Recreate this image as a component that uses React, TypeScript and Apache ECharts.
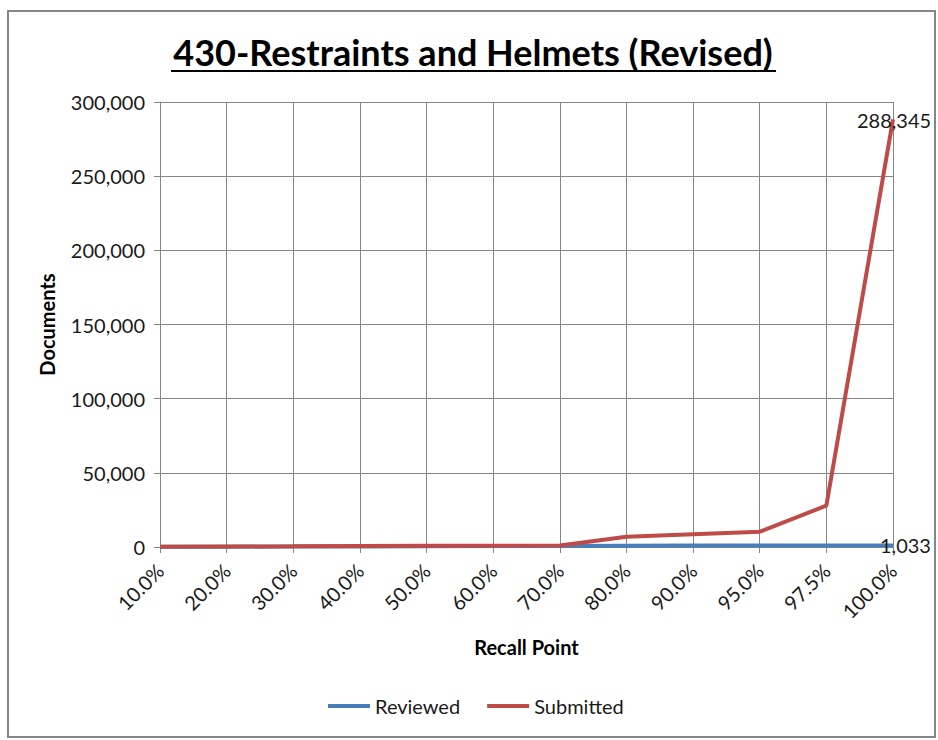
import React, { useEffect, useRef } from "react";
import * as echarts from "echarts";

const categories = ["10.0%", "20.0%", "30.0%", "40.0%", "50.0%", "60.0%", "70.0%", "80.0%", "90.0%", "95.0%", "97.5%", "100.0%"];
const reviewed = [100, 210, 310, 410, 520, 620, 720, 830, 930, 980, 1010, 1033];
const submitted = [150, 300, 450, 700, 800, 900, 1000, 6900, 8600, 10300, 27900, 288345];
const yTicks = [0, 50000, 100000, 150000, 200000, 250000, 300000];

const FONT = "Lato, 'Open Sans', sans-serif";

export default function App() {
  const ref = useRef<HTMLDivElement>(null);
  useEffect(() => {
    if (!ref.current) return;
    const chart = echarts.init(ref.current, null, { renderer: "svg" });
    const lblColor = "#1a1a1a";
    chart.setOption({
      animation: false,
      backgroundColor: "#ffffff",
      grid: { left: 160, right: 45, top: 102, bottom: 193, containLabel: false },
      legend: {
        bottom: 24,
        left: 328,
        padding: 0,
        itemWidth: 42,
        itemHeight: 4,
        itemGap: 27,
        icon: "rect",
        textStyle: { fontFamily: FONT, fontSize: 20, color: lblColor },
        data: ["Reviewed", "Submitted"],
      },
      xAxis: {
        type: "category",
        data: categories,
        boundaryGap: false,
        name: "Recall Point",
        nameLocation: "middle",
        nameGap: 90,
        nameTextStyle: { fontFamily: FONT, fontSize: 20, fontWeight: "bold", color: "#000" },
        axisLine: { lineStyle: { color: "#868686", width: 1 } },
        axisTick: { show: true, length: 6, lineStyle: { color: "#868686" } },
        axisLabel: { rotate: 45, fontFamily: FONT, fontSize: 20, color: lblColor, margin: 20, interval: 0 },
        splitLine: { show: true, lineStyle: { color: "#868686", width: 1 } },
      },
      yAxis: {
        type: "value",
        min: 0,
        max: 300000,
        interval: 50000,
        name: "Documents",
        nameLocation: "middle",
        nameGap: 103,
        nameTextStyle: { fontFamily: FONT, fontSize: 20, fontWeight: "bold", color: "#000" },
        axisLine: { show: true, lineStyle: { color: "#868686", width: 1 } },
        axisTick: { show: true, length: 6, lineStyle: { color: "#868686" } },
        axisLabel: {
          fontFamily: FONT,
          fontSize: 20,
          color: lblColor,
          margin: 15,
          formatter: (v: number) => (yTicks.includes(v) ? v.toLocaleString("en-US") : ""),
        },
        splitLine: { show: true, lineStyle: { color: "#868686", width: 1 } },
      },
      series: [
        {
          name: "Reviewed",
          type: "line",
          data: reviewed,
          symbol: "none",
          lineStyle: { color: "#4A7EBB", width: 4 },
          itemStyle: { color: "#4A7EBB" },
          endLabel: {
            show: true,
            distance: 0,
            offset: [-13, 0],
            fontFamily: FONT,
            fontSize: 20,
            color: lblColor,
            formatter: (p: any) => Number(p.value).toLocaleString("en-US"),
          },
          z: 2,
        },
        {
          name: "Submitted",
          type: "line",
          data: submitted,
          symbol: "none",
          lineStyle: { color: "#BE4B48", width: 4 },
          itemStyle: { color: "#BE4B48" },
          endLabel: {
            show: true,
            distance: 0,
            align: "center",
            offset: [1, 1],
            fontFamily: FONT,
            fontSize: 20,
            color: lblColor,
            formatter: (p: any) => Number(p.value).toLocaleString("en-US"),
          },
          z: 3,
        },
      ],
      graphic: [
        {
          type: "rect",
          shape: { x: 8, y: 11, width: 927, height: 726 },
          style: { fill: "none", stroke: "#868686", lineWidth: 2 },
          silent: true,
          z: -1,
        },
        {
          type: "text",
          x: 473,
          y: 52,
          style: {
            text: "430-Restraints and Helmets (Revised)",
            fontFamily: FONT,
            fontSize: 36,
            fontWeight: "bold",
            fill: "#000",
            align: "center",
            verticalAlign: "middle",
          },
        },
        {
          type: "line",
          shape: { x1: 171, y1: 71, x2: 776, y2: 71 },
          style: { stroke: "#000", lineWidth: 2 },
        },
      ],
    });
    return () => chart.dispose();
  }, []);
  return (
    <div
      ref={ref}
      style={{ position: "fixed", left: 0, top: 0, width: 938, height: 740 }}
    />
  );
}
